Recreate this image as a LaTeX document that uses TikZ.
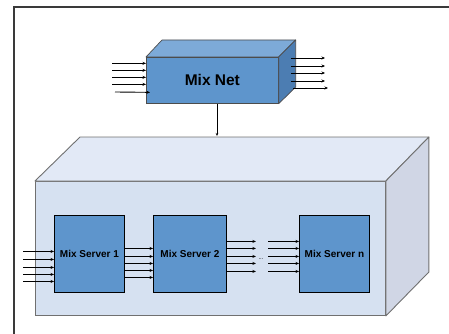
\documentclass[tikz,border=0pt]{standalone}
\usepackage{fontspec}
\setmainfont{Liberation Sans}
\usetikzlibrary{arrows.meta,calc}
\definecolor{netfront}{HTML}{5E95CC}
\definecolor{nettop}{HTML}{7DAAD8}
\definecolor{netside}{HTML}{4C7DB2}
\definecolor{boxfront}{HTML}{D6E1F1}
\definecolor{boxtop}{HTML}{E2E9F6}
\definecolor{boxside}{HTML}{D0D6E5}
\definecolor{boxline}{HTML}{707070}
\definecolor{frameline}{HTML}{3A3A3A}
\tikzset{
  arr/.style={line width=0.9pt,-{Stealth[length=3.5pt,width=3pt]}},
  srv/.style={draw=black,line width=0.9pt,fill=netfront,minimum width=70pt,minimum height=77pt,inner sep=0pt,font=\bfseries\fontsize{10}{12}\selectfont},
  netface/.style={draw=black!70,line width=0.7pt},
  boxface/.style={draw=boxline,line width=0.9pt}
}
\begin{document}
\begin{tikzpicture}[x=1pt,y=-1pt]
\useasboundingbox (0,0) rectangle (449,334);
% frame
\draw[frameline,line width=1.4pt] (14,334) -- (14,7) -- (449,7);
% big box
\node[boxface,fill=boxfront,minimum width=350pt,minimum height=134pt,inner sep=0pt,anchor=north west] (big) at (35,181) {};
\draw[boxface,fill=boxtop,line join=round] (big.north west) -- ++(45,-44) -- ($(big.north east)+(43,-44)$) -- (big.north east) -- cycle;
\draw[boxface,fill=boxside,line join=round] (big.north east) -- ++(43,-44) -- ++(0,135) -- (big.south east) -- cycle;
% mix net
\node[netface,fill=netfront,minimum width=132pt,minimum height=46pt,inner sep=0pt,anchor=north west,font=\bfseries\fontsize{15.5}{18}\selectfont] (net) at (146,57) {Mix Net};
\draw[netface,fill=nettop,line join=round] (net.north west) -- ++(16,-17) -- ($(net.north east)+(17,-17)$) -- (net.north east) -- cycle;
\draw[netface,fill=netside,line join=round] (net.north east) -- ++(17,-17) -- ++(0,47) -- (net.south east) -- cycle;
% servers
\node[srv,anchor=north west] (s1) at (54,215) {Mix Server 1};
\node[srv,anchor=north west,minimum width=73pt] (s2) at (153,215) {Mix Server 2};
\node[srv,anchor=north west] (sn) at (299,215) {Mix Server n};
% vertical connector
\coordinate (topin) at (217,136);
\draw[line width=0.9pt,-{Stealth[length=3pt,width=2.5pt]}] (net.south -| topin) -- (topin);
% mix net inputs
\foreach \dy in {17,10,3,-4} {
  \draw[arr] ([xshift=-34pt,yshift=\dy pt]net.west) -- ([yshift=\dy pt]net.west);
}
\coordinate (n5) at (115,92);
\draw[arr] (n5) -- ([xshift=4pt,yshift=-12pt]net.west);
% mix net outputs
\foreach \y in {58,66,73,81} {
  \coordinate (o) at (325,\y);
  \draw[arr] ([xshift=-34pt]o) -- (o);
}
\coordinate (o5) at (328,88);
\draw[arr] ([xshift=-35pt]o5) -- (o5);
% server 1 inputs
\foreach \dy in {2.5,-5.5,-13.5,-20.5,-27.5} {
  \draw[arr] ([xshift=-31pt,yshift=\dy pt]s1.west) -- ([yshift=\dy pt]s1.west);
}
% server 1 -> server 2
\foreach \dy in {5.5,-2.5,-9.5,-16.5,-23.5} {
  \draw[arr] ([yshift=\dy pt]s1.east) -- ([yshift=\dy pt]s2.west);
}
% server 2 outputs and server n inputs
\foreach \dy in {12.5,5.5,-2.5,-9.5,-17.5} {
  \draw[arr] ([yshift=\dy pt]s2.east) -- ([xshift=29pt,yshift=\dy pt]s2.east);
  \draw[arr] ([xshift=-31pt,yshift=\dy pt]sn.west) -- ([yshift=\dy pt]sn.west);
}
\node[font=\fontsize{6}{6}\selectfont,inner sep=0pt] (dots) at (261,259) {...};
\end{tikzpicture}
\end{document}
